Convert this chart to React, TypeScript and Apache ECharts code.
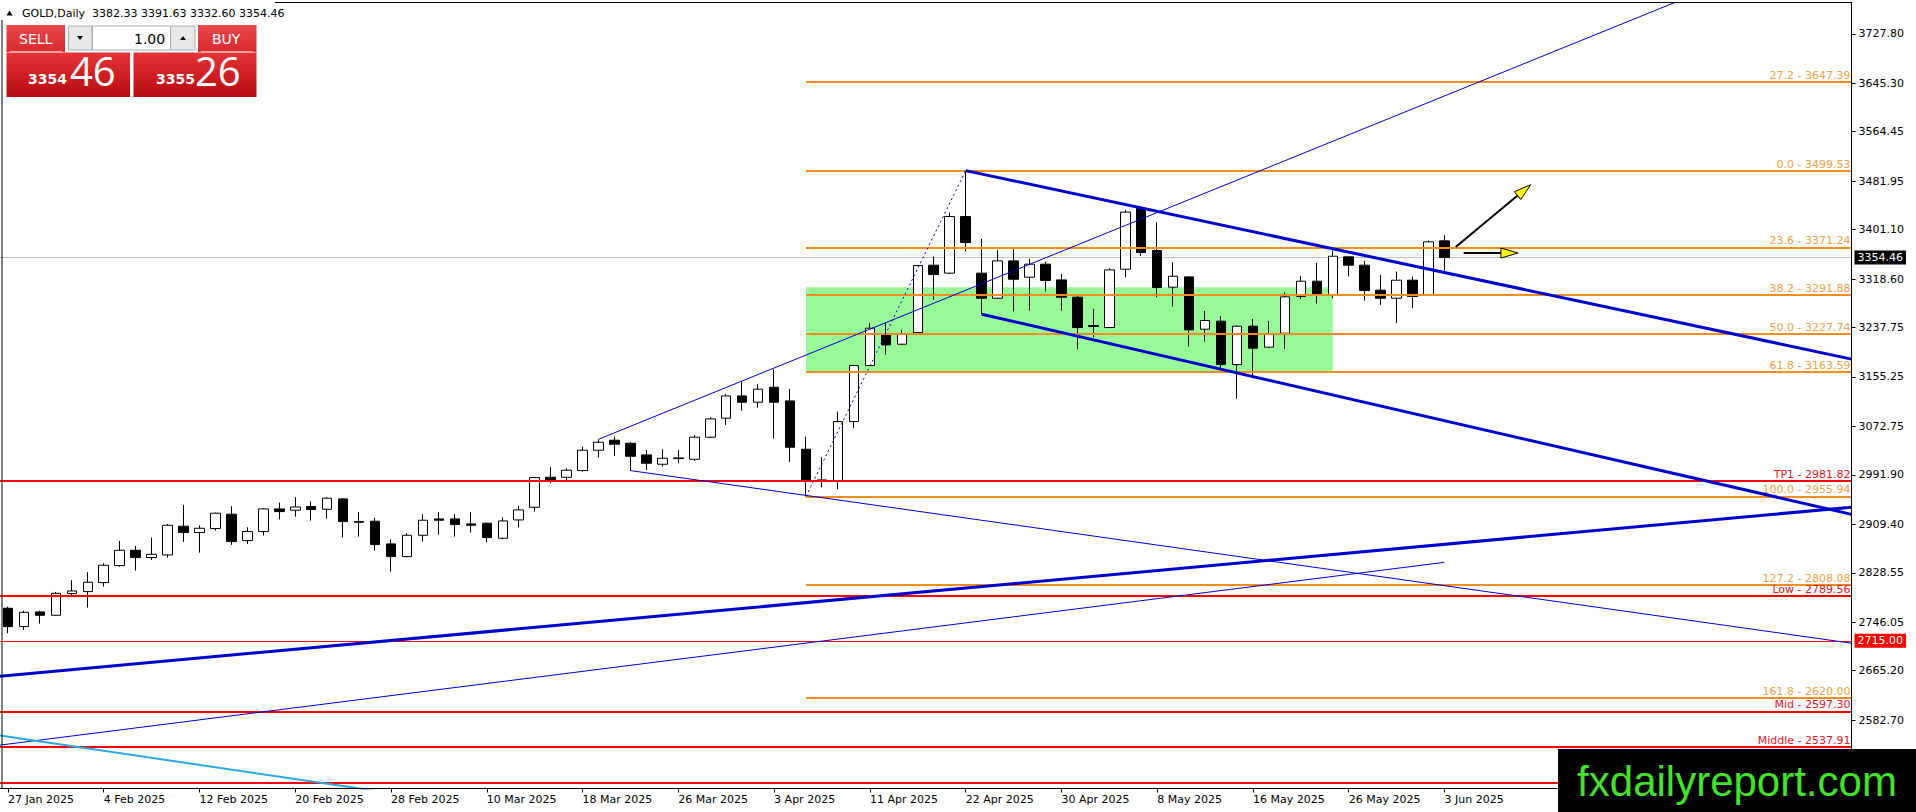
import React, { useEffect, useRef } from "react";
import * as echarts from "echarts";

// ---------- DATA ----------
const JAN_DAYS = [27, 28, 29, 30, 31];
const FEB_DAYS = [3, 4, 5, 6, 7, 10, 11, 12, 13, 14, 17, 18, 19, 20, 21, 24, 25, 26, 27, 28];
const MAR_DAYS = [3, 4, 5, 6, 7, 10, 11, 12, 13, 14, 17, 18, 19, 20, 21, 24, 25, 26, 27, 28, 31];
const APR_DAYS = [1, 2, 3, 4, 7, 8, 9, 10, 11, 14, 15, 16, 17, 21, 22, 23, 24, 25, 28, 29, 30];
const MAY_DAYS = [1, 2, 5, 6, 7, 8, 9, 12, 13, 14, 15, 16, 19, 20, 21, 22, 23, 26, 27, 28, 29, 30];
const JUN_DAYS = [2, 3];
const FUTURE_SLOTS = 25;

const OPEN = [
  2769.3, 2738.7, 2763.2, 2757.6, 2793.8, 2797.1, 2812.1, 2840.5, 2866.1, 2853.9,
  2858.3, 2906.2, 2895.6, 2902.3, 2926.2, 2882.2, 2897.3, 2935.1, 2932.9, 2939.0,
  2934.5, 2951.8, 2913.9, 2914.5, 2876.7, 2855.5, 2891.1, 2918.4, 2918.4, 2910.1,
  2911.2, 2886.1, 2916.7, 2937.8, 2987.9, 2987.9, 2999.0, 3033.0, 3049.7, 3044.6,
  3025.2, 3009.6, 3019.1, 3017.9, 3054.7, 3086.4, 3123.6, 3113.1, 3138.1, 3115.3,
  3034.6, 2982.3, 2981.8, 3080.8, 3174.3, 3225.4, 3209.9, 3229.3, 3341.7, 3328.4,
  3422.9, 3328.4, 3286.6, 3348.9, 3321.7, 3343.4, 3317.2, 3288.3, 3241.0, 3237.7,
  3335.0, 3436.8, 3366.2, 3305.0, 3322.2, 3234.9, 3248.3, 3175.9, 3239.9, 3204.9,
  3228.2, 3289.4, 3315.0, 3292.2, 3355.6, 3341.7, 3300.0, 3286.6, 3316.7, 3292.2,
  3382.33,
];
const HIGH = [
  2772.0, 2765.4, 2765.4, 2796.6, 2816.0, 2829.4, 2844.4, 2881.7, 2873.3, 2887.3,
  2910.1, 2941.8, 2907.8, 2929.0, 2939.5, 2904.5, 2936.2, 2945.7, 2954.6, 2947.9,
  2954.6, 2952.9, 2930.0, 2920.1, 2884.5, 2894.5, 2926.2, 2929.5, 2926.7, 2929.5,
  2912.3, 2921.2, 2940.1, 2988.5, 3004.6, 3002.9, 3039.1, 3051.3, 3055.8, 3046.9,
  3033.5, 3034.6, 3033.5, 3058.0, 3088.0, 3126.4, 3148.7, 3143.1, 3168.1, 3135.3,
  3055.8, 3021.3, 3097.5, 3175.4, 3244.9, 3244.9, 3233.8, 3342.3, 3356.2, 3429.6,
  3499.53, 3385.7, 3367.3, 3369.0, 3352.3, 3347.8, 3326.7, 3290.0, 3268.8, 3336.7,
  3434.1, 3439.6, 3413.5, 3346.7, 3323.3, 3265.5, 3257.1, 3241.0, 3252.1, 3248.8,
  3296.1, 3323.9, 3345.6, 3366.2, 3356.2, 3348.9, 3325.6, 3331.1, 3322.8, 3382.9,
  3391.63,
];
const LOW = [
  2727.6, 2733.2, 2743.7, 2757.0, 2791.6, 2770.4, 2805.5, 2838.8, 2832.2, 2850.0,
  2853.9, 2880.0, 2862.2, 2898.9, 2875.0, 2876.7, 2890.6, 2917.8, 2922.3, 2915.6,
  2919.0, 2887.2, 2888.9, 2865.5, 2830.5, 2854.4, 2880.6, 2892.3, 2888.9, 2895.6,
  2878.9, 2884.4, 2903.9, 2930.6, 2977.9, 2983.5, 2997.4, 3020.7, 3023.5, 2998.5,
  3000.1, 3005.7, 3011.3, 3015.2, 3053.0, 3075.2, 3099.2, 3104.2, 3052.4, 3013.5,
  2955.94, 2971.2, 2967.9, 3069.7, 3174.0, 3192.1, 3208.8, 3228.0, 3283.9, 3327.0,
  3364.5, 3259.9, 3286.0, 3264.4, 3266.0, 3297.8, 3266.0, 3201.5, 3221.5, 3236.6,
  3321.7, 3357.3, 3288.3, 3272.7, 3206.0, 3214.3, 3169.8, 3119.2, 3153.1, 3204.0,
  3202.1, 3285.0, 3277.7, 3286.6, 3322.8, 3282.7, 3275.5, 3244.9, 3269.9, 3291.0,
  3332.60,
];
const CLOSE = [
  2738.7, 2762.6, 2757.6, 2794.3, 2798.2, 2812.7, 2841.1, 2866.1, 2853.9, 2859.4,
  2907.8, 2895.6, 2902.8, 2927.9, 2880.6, 2897.3, 2935.1, 2930.6, 2938.4, 2934.0,
  2952.9, 2913.9, 2912.8, 2875.6, 2855.5, 2891.1, 2916.2, 2916.2, 2909.0, 2907.8,
  2887.3, 2915.0, 2933.4, 2987.4, 2983.5, 2999.6, 3033.0, 3046.3, 3043.0, 3022.9,
  3011.3, 3019.6, 3020.2, 3054.7, 3085.3, 3123.6, 3113.1, 3134.8, 3113.1, 3038.0,
  2982.3, 2983.5, 3080.8, 3174.3, 3236.6, 3208.7, 3227.1, 3341.1, 3326.1, 3422.9,
  3379.5, 3286.6, 3348.9, 3318.3, 3343.4, 3316.1, 3288.3, 3237.7, 3239.3, 3333.9,
  3430.2, 3362.8, 3304.4, 3323.3, 3233.8, 3249.4, 3175.9, 3239.9, 3203.2, 3227.1,
  3288.9, 3315.0, 3292.2, 3356.7, 3341.7, 3299.4, 3286.6, 3316.7, 3289.4, 3380.6,
  3354.46,
];

const Y_TICKS = [
  3727.8, 3645.3, 3564.45, 3481.95, 3401.1, 3318.6, 3237.75, 3155.25, 3072.75,
  2991.9, 2909.4, 2828.55, 2746.05, 2665.2, 2582.7,
];

const FIB_LEVELS = ["27.2", "0.0", "23.6", "38.2", "50.0", "61.8", "100.0", "127.2", "161.8"];
const FIB_PRICES = [3647.39, 3499.53, 3371.24, 3291.88, 3227.74, 3163.59, 2955.94, 2808.08, 2620.0];
const FIB_START_BAR = 50;

const RED_NAMES = ["TP1", "Low", "Mid", "Middle"];
const RED_PRICES = [2981.82, 2789.56, 2597.3, 2537.91];
const RED_PLAIN_PRICE = 2478.3;
const RED_BOX_PRICE = 2715.0;
const BID_PRICE = 3354.46;

const ZONE_BARS = [50, 83];
const ZONE_PRICES = [3305.0, 3163.59];

const TL_CHANNEL_TOP = [[60, 3499.53], [115.5, 3185.0]];
const TL_CHANNEL_BOTTOM = [[61, 3260.0], [115.5, 2926.0]];
const TL_LONG_UP = [[-0.5, 2656.0], [115.5, 2938.0]];
const TL_SHORT_UP = [[-0.5, 2541.0], [90, 2846.0]];
const TL_MARCH_UP = [[37, 3051.3], [106, 3797.0]];
const TL_MARCH_DOWN = [[39, 2999.0], [115.5, 2711.0]];
const TL_CYAN = [[-0.5, 2557.0], [25, 2457.0]];
const TL_FIB_BASE = [[50, 2955.94], [60, 3499.53]];

const ARROWS = [
  [90.7, 3372.0, 95.4, 3476.0],
  [91.2, 3362.0, 94.6, 3362.0],
];

const HEADER = "GOLD,Daily  3382.33 3391.63 3332.60 3354.46";
const SELL_BIG = ["3354", "46"];
const BUY_BIG = ["3355", "26"];
const LOT = "1.00";
const WATERMARK = "fxdailyreport.com";

// ---------- BUILD ----------
const MONTHS: [string, number[]][] = [
  ["Jan", JAN_DAYS], ["Feb", FEB_DAYS], ["Mar", MAR_DAYS],
  ["Apr", APR_DAYS], ["May", MAY_DAYS], ["Jun", JUN_DAYS],
];
const DATES: string[] = [];
MONTHS.forEach(([m, days]) => days.forEach((d) => DATES.push(`${d} ${m} 2025`)));
const LAST_BAR = DATES.length - 1;
const CATEGORIES = DATES.concat(Array(FUTURE_SLOTS).fill(""));
const X_MIN = -0.5;
const X_MAX = CATEGORIES.length - 0.5;

const FONT = "DejaVu Sans";
const BLUE = "#0000CD";
const ORANGE = "#F58C1E";
const ORANGE_TXT = "#F0A046";
const RED = "#FF0000";
const RED_TXT = "#E0161E";

const redGrad = (a: string, b: string) => ({
  type: "linear", x: 0, y: 0, x2: 0, y2: 1,
  colorStops: [{ offset: 0, color: a }, { offset: 1, color: b }],
});

function trend(pts: number[][], color: string, width: number, type: any = "solid") {
  return {
    type: "line",
    xAxisIndex: 1,
    yAxisIndex: 0,
    data: pts,
    showSymbol: false,
    symbol: "none",
    silent: true,
    clip: true,
    z: 4,
    lineStyle: { color, width, type },
  };
}

function buildOption(): any {
  const showIdx = (i: number) => i % 6 === 0 && i <= LAST_BAR;

  const fibLines = FIB_PRICES.map((p, k) => [
    { name: `${FIB_LEVELS[k]} - ${p.toFixed(2)}`, coord: [FIB_START_BAR, p] },
    { coord: [X_MAX, p] },
  ]);
  const redLines = RED_PRICES.map((p, k) => [
    { name: `${RED_NAMES[k]} - ${p.toFixed(2)}`, coord: [X_MIN, p] },
    { coord: [X_MAX, p] },
  ]);

  const panel: any[] = [
    { type: "rect", shape: { x: 0, y: 0, width: 275, height: 20 }, style: { fill: "#fff" }, z: 100, silent: true },
    { type: "polygon", shape: { points: [[6.5, 15.5], [12.5, 15.5], [9.5, 10.5]] }, style: { fill: "#000" }, z: 101 },
    { type: "text", x: 22, y: 13, style: { text: HEADER, fill: "#000", fontSize: 11, fontFamily: FONT, verticalAlign: "middle" }, z: 101 },
    // SELL / BUY buttons
    { type: "rect", shape: { x: 6.5, y: 25, width: 58.5, height: 27 }, style: { fill: redGrad("#E9494C", "#D8292D") }, z: 101 },
    { type: "line", shape: { x1: 10, y1: 51.5, x2: 62, y2: 51.5 }, style: { stroke: "#F2A0A0", lineWidth: 1 }, z: 102 },
    { type: "text", x: 19, y: 38.5, style: { text: "SELL", fill: "#fff", fontSize: 14, fontFamily: FONT, verticalAlign: "middle" }, z: 102 },
    { type: "rect", shape: { x: 198, y: 25, width: 58.5, height: 27 }, style: { fill: redGrad("#E9494C", "#D8292D") }, z: 101 },
    { type: "line", shape: { x1: 201, y1: 51.5, x2: 253, y2: 51.5 }, style: { stroke: "#F2A0A0", lineWidth: 1 }, z: 102 },
    { type: "text", x: 212, y: 38.5, style: { text: "BUY", fill: "#fff", fontSize: 14, fontFamily: FONT, verticalAlign: "middle" }, z: 102 },
    // spinner
    { type: "rect", shape: { x: 68.5, y: 26, width: 23.5, height: 24 }, style: { fill: "#E8E8E8", stroke: "#ADADAD", lineWidth: 1 }, z: 101 },
    { type: "polygon", shape: { points: [[77, 36], [83, 36], [80, 40]] }, style: { fill: "#000" }, z: 102 },
    { type: "rect", shape: { x: 92.5, y: 26, width: 78, height: 24 }, style: { fill: "#fff", stroke: "#ADADAD", lineWidth: 1 }, z: 101 },
    { type: "text", x: 134, y: 38.5, style: { text: LOT, fill: "#000", fontSize: 14, fontFamily: FONT, verticalAlign: "middle" }, z: 102 },
    { type: "rect", shape: { x: 170.5, y: 26, width: 24.5, height: 24 }, style: { fill: "#E8E8E8", stroke: "#ADADAD", lineWidth: 1 }, z: 101 },
    { type: "polygon", shape: { points: [[180, 40], [186, 40], [183, 36]] }, style: { fill: "#000" }, z: 102 },
    // big price boxes
    { type: "rect", shape: { x: 6.5, y: 52.5, width: 123.5, height: 44.5 }, style: { fill: redGrad("#E53437", "#B70C12") }, z: 101 },
    { type: "rect", shape: { x: 133.5, y: 52.5, width: 123, height: 44.5 }, style: { fill: redGrad("#E53437", "#B70C12") }, z: 101 },
    { type: "text", x: 28, y: 86, style: { text: SELL_BIG[0], fill: "#fff", fontSize: 14, fontWeight: "bold", fontFamily: FONT, verticalAlign: "bottom" }, z: 102 },
    { type: "text", x: 70, y: 90, style: { text: SELL_BIG[1], fill: "#fff", fontSize: 40, fontFamily: "Open Sans", verticalAlign: "bottom" }, z: 102 },
    { type: "text", x: 156, y: 86, style: { text: BUY_BIG[0], fill: "#fff", fontSize: 14, fontWeight: "bold", fontFamily: FONT, verticalAlign: "bottom" }, z: 102 },
    { type: "text", x: 195, y: 90, style: { text: BUY_BIG[1], fill: "#fff", fontSize: 40, fontFamily: "Open Sans", verticalAlign: "bottom" }, z: 102 },
    // frame
    { type: "rect", shape: { x: 2, y: 2.5, width: 1849.5, height: 786 }, style: { fill: "none", stroke: "#000", lineWidth: 1 }, z: 50, silent: true },
    // watermark
    { type: "rect", shape: { x: 1558, y: 749, width: 358, height: 63 }, style: { fill: "#000" }, z: 110 },
    { type: "text", x: 1737, y: 781, style: { text: WATERMARK, fill: "#44E22C", fontSize: 42, fontFamily: "Liberation Sans", align: "center", verticalAlign: "middle" }, z: 111 },
  ];

  return {
    animation: false,
    backgroundColor: "#fff",
    grid: { left: -4.5, right: 64.5, top: 2.5, bottom: 23.5, containLabel: false },
    xAxis: [
      {
        type: "category",
        data: CATEGORIES,
        boundaryGap: true,
        axisLine: { show: true, lineStyle: { color: "#000", width: 1 } },
        axisTick: { show: true, alignWithLabel: true, interval: (i: number) => showIdx(i), length: 4, lineStyle: { color: "#000" } },
        axisLabel: {
          interval: (i: number) => showIdx(i),
          align: "left",
          margin: 5,
          color: "#000",
          fontSize: 11,
          fontFamily: FONT,
        },
        splitLine: { show: false },
      },
      { type: "value", min: X_MIN, max: X_MAX, show: false, splitLine: { show: false } },
    ],
    yAxis: [
      {
        type: "value",
        position: "right",
        min: 2468.6,
        max: 3780.0,
        scale: true,
        axisLine: { show: true, onZero: false, lineStyle: { color: "#000", width: 1 } },
        axisTick: { show: true, length: 4, customValues: Y_TICKS, lineStyle: { color: "#000" } },
        axisLabel: {
          customValues: Y_TICKS,
          formatter: (v: number) => v.toFixed(2),
          margin: 7,
          color: "#000",
          fontSize: 11,
          fontFamily: FONT,
        },
        splitLine: { show: false },
      },
    ],
    graphic: { elements: panel },
    series: [
      {
        type: "line",
        name: "zone",
        xAxisIndex: 1,
        yAxisIndex: 0,
        data: [],
        silent: true,
        z: 1,
        markArea: {
          silent: true,
          z: 1,
          itemStyle: { color: "#98FB98", opacity: 1 },
          data: [[{ coord: [ZONE_BARS[0], ZONE_PRICES[0]] }, { coord: [ZONE_BARS[1], ZONE_PRICES[1]] }]],
        },
        markLine: {
          silent: true,
          z: 1,
          symbol: ["none", "none"],
          lineStyle: { color: "#C0C0C0", width: 1, type: "solid" },
          label: {
            show: true,
            position: "end",
            distance: 3,
            formatter: (p: any) => p.name,
            color: "#fff",
            backgroundColor: "#000",
            padding: [2, 3, 1, 3],
            fontSize: 11,
            fontFamily: FONT,
          },
          data: [[{ name: BID_PRICE.toFixed(2), coord: [X_MIN, BID_PRICE] }, { coord: [X_MAX, BID_PRICE] }]],
        },
      },
      {
        type: "candlestick",
        xAxisIndex: 0,
        yAxisIndex: 0,
        data: OPEN.map((o, i) => [o, CLOSE[i], LOW[i], HIGH[i]]),
        barWidth: 10,
        z: 2,
        silent: true,
        itemStyle: { color: "#fff", color0: "#000", borderColor: "#000", borderColor0: "#000", borderWidth: 1 },
      },
      {
        type: "line",
        name: "fib",
        xAxisIndex: 1,
        yAxisIndex: 0,
        data: [],
        silent: true,
        z: 3,
        markLine: {
          silent: true,
          z: 3,
          symbol: ["none", "none"],
          lineStyle: { color: ORANGE, width: 2, type: "solid" },
          label: {
            show: true,
            position: "insideEndTop",
            distance: 1,
            formatter: (p: any) => p.name,
            color: ORANGE_TXT,
            fontSize: 11,
            fontFamily: FONT,
          },
          data: fibLines,
        },
      },
      {
        type: "line",
        name: "red",
        xAxisIndex: 1,
        yAxisIndex: 0,
        data: [],
        silent: true,
        z: 3,
        markLine: {
          silent: true,
          z: 3,
          symbol: ["none", "none"],
          lineStyle: { color: RED, width: 2, type: "solid" },
          label: {
            show: true,
            position: "insideEndTop",
            distance: 1,
            formatter: (p: any) => p.name,
            color: RED_TXT,
            fontSize: 11,
            fontFamily: FONT,
          },
          data: [
            ...redLines,
            [{ name: "", coord: [X_MIN, RED_PLAIN_PRICE] }, { coord: [X_MAX, RED_PLAIN_PRICE] }],
            [
              {
                name: RED_BOX_PRICE.toFixed(2),
                coord: [X_MIN, RED_BOX_PRICE],
                lineStyle: { width: 1 },
                label: { position: "end", distance: 3, color: "#fff", backgroundColor: RED, padding: [2, 3, 1, 3] },
              },
              { coord: [X_MAX, RED_BOX_PRICE] },
            ],
          ],
        },
      },
      trend(TL_CHANNEL_TOP, BLUE, 3),
      trend(TL_CHANNEL_BOTTOM, BLUE, 3),
      trend(TL_LONG_UP, BLUE, 3),
      trend(TL_SHORT_UP, BLUE, 1),
      trend(TL_MARCH_UP, BLUE, 1),
      trend(TL_MARCH_DOWN, BLUE, 1),
      trend(TL_CYAN, "#2AA8E0", 2),
      trend(TL_FIB_BASE, BLUE, 1, [2, 3]),
      {
        type: "custom",
        xAxisIndex: 1,
        yAxisIndex: 0,
        silent: true,
        clip: false,
        z: 6,
        data: ARROWS,
        encode: { x: [0, 2], y: [1, 3] },
        renderItem: (_params: any, api: any) => {
          const p1 = api.coord([api.value(0), api.value(1)]);
          const p2 = api.coord([api.value(2), api.value(3)]);
          const dx = p2[0] - p1[0];
          const dy = p2[1] - p1[1];
          const len = Math.hypot(dx, dy) || 1;
          const ux = dx / len;
          const uy = dy / len;
          const L = 17;
          const W = 5;
          const bx = p2[0] - ux * L;
          const by = p2[1] - uy * L;
          const nx = -uy;
          const ny = ux;
          return {
            type: "group",
            children: [
              { type: "line", shape: { x1: p1[0], y1: p1[1], x2: bx, y2: by }, style: { stroke: "#000", lineWidth: 2 } },
              {
                type: "polygon",
                shape: { points: [[p2[0], p2[1]], [bx + nx * W, by + ny * W], [bx - nx * W, by - ny * W]] },
                style: { fill: "#FFFF00", stroke: "#000", lineWidth: 1 },
              },
            ],
          };
        },
      },
    ],
  };
}

export default function App() {
  const ref = useRef<HTMLDivElement>(null);
  useEffect(() => {
    if (!ref.current) return;
    const chart = echarts.init(ref.current, undefined, { renderer: "svg" });
    chart.setOption(buildOption());
    return () => chart.dispose();
  }, []);
  return (
    <div
      ref={ref}
      style={{ position: "fixed", left: 0, top: 0, width: 1916, height: 812, background: "#fff" }}
    />
  );
}
